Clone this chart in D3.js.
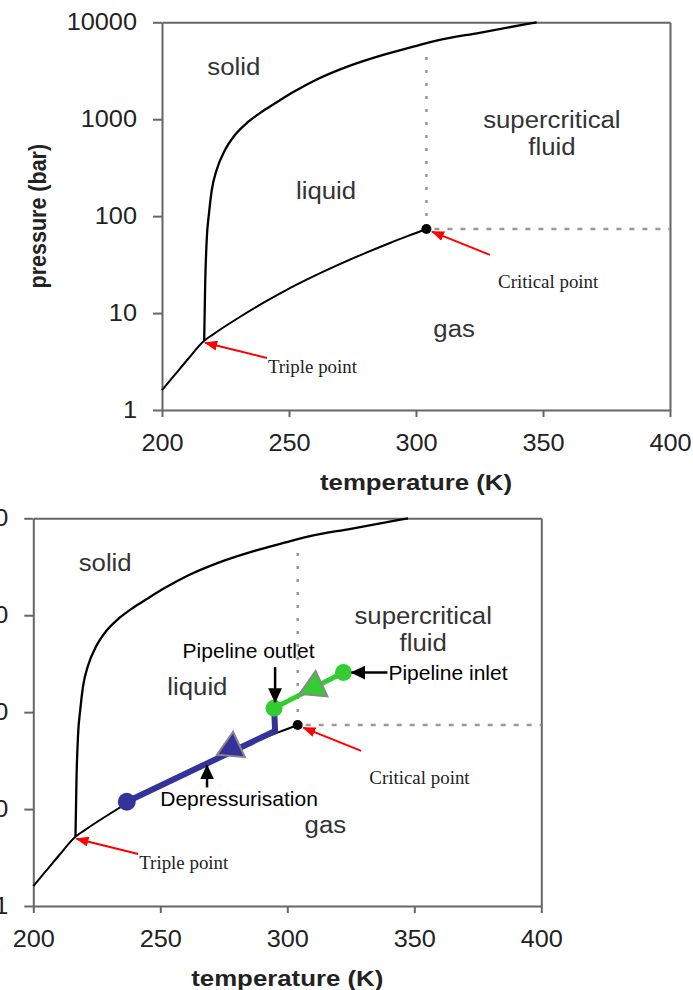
<!DOCTYPE html>
<html lang="en">
<head>
<meta charset="UTF-8" />
<title>CO2 phase diagram</title>
<script src="https://d3js.org/d3.v7.min.js"></script>
<style>
  body { margin: 0; background: #fff; }
  svg { display: block; font-family: "Liberation Sans", Arial, sans-serif; }
</style>
</head>
<body>
<div id="chart"></div>
<script>
// phase boundaries, temperature (K) / pressure (bar)
const sublimationT = [200, 205, 210, 216.6];
const sublimationP = [1.6, 2.3, 3.3, 5.18];
const vaporT = [216.6, 220, 230, 240, 250, 260, 270, 280, 290, 300, 304.1];
const vaporP = [5.18, 6.0, 8.9, 12.8, 17.9, 24.2, 32.0, 41.6, 53.2, 67.1, 73.8];
const meltingT = [216.6, 217.0, 217.6, 218.5, 219.6, 221.5, 224.8, 228.7, 234.0, 239.3, 244.5, 251.7, 260.9, 272.7, 287.1, 298.9, 308.1, 325, 347.5];
const meltingP = [5.18, 20, 56.7, 107, 186, 299, 481, 687, 942, 1195, 1459, 1905, 2570, 3470, 4613, 5600, 6470, 7800, 10000];
const criticalPoint = [304.1, 73.8];
const triplePoint = [216.6, 5.18];

const tempTicks = [200, 250, 300, 350, 400];
const pressureTicks = [1, 10, 100, 1000, 10000];

const regionNames = ["solid", "liquid", "supercritical", "fluid", "gas"];
const regionT = [228.3, 264.6, 353.5, 353.5, 315];
const regionP = [2850, 150, 813, 428, 5.66];

// pipeline (lower chart)
const pipeT = [322.1, 294.8];          // inlet -> outlet
const pipeP = [256, 110];
const depressT = [294.8, 295.2, 236.8]; // outlet -> knee -> end
const depressP = [110, 64, 11.9];
const flowMarkT = [310.6, 278.1];
const flowMarkP = [181, 42.8];

const W = 693, H = 990;
const x = d3.scaleLinear().domain([200, 400]).range([162, 670]);
const y = d3.scaleLog().domain([1, 10000]).range([410, 22.3]);

const svg = d3.select("#chart").append("svg")
  .attr("width", W).attr("height", H);
svg.append("rect").attr("width", W).attr("height", H).attr("fill", "#fff");

const defs = svg.append("defs");
defs.append("marker").attr("id", "redHead")
  .attr("markerUnits", "userSpaceOnUse")
  .attr("markerWidth", 13).attr("markerHeight", 10)
  .attr("refX", 12).attr("refY", 5).attr("orient", "auto")
  .append("path").attr("d", "M0,0L13,5L0,10Z").attr("fill", "#ff0000");
defs.append("marker").attr("id", "blackHead")
  .attr("markerUnits", "userSpaceOnUse")
  .attr("markerWidth", 15).attr("markerHeight", 14)
  .attr("refX", 14).attr("refY", 7).attr("orient", "auto")
  .append("path").attr("d", "M0,0L15,7L0,14Z").attr("fill", "#000");

// the source picture is stretched sideways, so the text is too
function stretch(sel, k) {
  sel.each(function () {
    const w = this.getComputedTextLength();
    d3.select(this).attr("textLength", w * k).attr("lengthAdjust", "spacingAndGlyphs");
  });
}

const line = d3.line().x(d => x(d[0])).y(d => y(d[1]));
const smooth = d3.line().x(d => x(d[0])).y(d => y(d[1])).curve(d3.curveMonotoneX);

function drawPanel(g) {
  // frame
  g.append("g").attr("transform", `translate(0,${y(10000)})`)
    .call(d3.axisTop(x).tickValues([]).tickSizeOuter(0));
  g.append("g").attr("transform", `translate(${x(400)},0)`)
    .call(d3.axisRight(y).tickValues([]).tickSizeOuter(0));

  const yAxis = g.append("g").attr("transform", `translate(${x(200)},0)`)
    .call(d3.axisLeft(y).tickValues(pressureTicks).tickFormat(d3.format("d"))
      .tickSize(9).tickPadding(16).tickSizeOuter(0));
  const xAxis = g.append("g").attr("transform", `translate(0,${y(1)})`)
    .call(d3.axisBottom(x).tickValues(tempTicks)
      .tickSize(7).tickPadding(18).tickSizeOuter(0));

  g.selectAll(".domain, .tick line").attr("stroke", "#666").attr("stroke-width", 2);
  [yAxis, xAxis].forEach(a => {
    const t = a.selectAll("text").attr("font-size", 23).attr("fill", "#222")
      .attr("font-family", "Liberation Sans, Arial, sans-serif");
    stretch(t, 1.1);
  });

  // axis titles
  const xt = g.append("text")
    .attr("x", (x(200) + x(400)) / 2).attr("y", y(1) + 79.5)
    .attr("text-anchor", "middle").attr("font-size", 21.5).attr("font-weight", "bold")
    .attr("fill", "#222").text("temperature (K)");
  stretch(xt, 1.2);
  g.append("text")
    .attr("transform", `translate(${x(200) - 116.5},${(y(1) + y(10000)) / 2}) scale(1.15,1) rotate(-90)`)
    .attr("text-anchor", "middle").attr("font-size", 21.5).attr("font-weight", "bold")
    .attr("fill", "#222").text("pressure (bar)");

  // critical point guides
  g.append("line")
    .attr("x1", x(criticalPoint[0])).attr("x2", x(criticalPoint[0]))
    .attr("y1", y(criticalPoint[1])).attr("y2", y(5000))
    .attr("stroke", "#999").attr("stroke-width", 2.5).attr("stroke-dasharray", "3,10");
  g.append("line")
    .attr("x1", x(criticalPoint[0]) + 8).attr("x2", x(400))
    .attr("y1", y(criticalPoint[1])).attr("y2", y(criticalPoint[1]))
    .attr("stroke", "#999").attr("stroke-width", 2.5).attr("stroke-dasharray", "5,8");

  // phase boundaries
  g.append("path").datum(d3.zip(sublimationT, sublimationP).concat(d3.zip(vaporT, vaporP).slice(1)))
    .attr("d", smooth).attr("fill", "none").attr("stroke", "#000").attr("stroke-width", 2);
  g.append("path").datum(d3.zip(meltingT, meltingP))
    .attr("d", smooth).attr("fill", "none").attr("stroke", "#000").attr("stroke-width", 2.3);
  g.append("circle").attr("cx", x(criticalPoint[0])).attr("cy", y(criticalPoint[1]))
    .attr("r", 5).attr("fill", "#000");

  // region names
  regionNames.forEach((name, i) => {
    const t = g.append("text").attr("x", x(regionT[i])).attr("y", y(regionP[i]))
      .attr("text-anchor", "middle").attr("font-size", 23).attr("fill", "#333").text(name);
    stretch(t, 1.12);
  });

  // point labels with red arrows
  g.append("line")
    .attr("x1", x(329.1)).attr("y1", y(39.8)).attr("x2", x(306.3)).attr("y2", y(69.2))
    .attr("stroke", "#ff0000").attr("stroke-width", 2).attr("marker-end", "url(#redHead)");
  g.append("line")
    .attr("x1", x(241.3)).attr("y1", y(3.44)).attr("x2", x(triplePoint[0]) + 1).attr("y2", y(triplePoint[1]) + 2)
    .attr("stroke", "#ff0000").attr("stroke-width", 2).attr("marker-end", "url(#redHead)");
  const serif = "Liberation Serif, Times New Roman, serif";
  stretch(g.append("text").attr("x", x(332.3)).attr("y", y(18.2))
    .attr("font-family", serif).attr("font-size", 18).attr("fill", "#222").text("Critical point"), 1.05);
  stretch(g.append("text").attr("x", x(241.7)).attr("y", y(2.43))
    .attr("font-family", serif).attr("font-size", 18).attr("fill", "#222").text("Triple point"), 1.05);
}

function drawPipeline(g) {
  const blue = "#333399", green = "#33cc33";
  g.append("path").datum(d3.zip(depressT, depressP))
    .attr("d", line).attr("fill", "none").attr("stroke", blue)
    .attr("stroke-width", 6).attr("stroke-linejoin", "round");
  g.append("path").datum(d3.zip(pipeT, pipeP))
    .attr("d", line).attr("fill", "none").attr("stroke", green).attr("stroke-width", 5);

  g.selectAll("path.flow").data(d3.zip(flowMarkT, flowMarkP)).join("path")
    .attr("class", "flow")
    .attr("d", d3.symbol(d3.symbolTriangle, 340))
    .attr("transform", d => `translate(${x(d[0])},${y(d[1])}) rotate(5)`)
    .attr("fill", (d, i) => i === 0 ? green : blue)
    .attr("stroke", "#888").attr("stroke-width", 2);

  g.append("circle").attr("cx", x(depressT[2])).attr("cy", y(depressP[2]))
    .attr("r", 9).attr("fill", blue);
  g.selectAll("circle.pipe").data(d3.zip(pipeT, pipeP)).join("circle")
    .attr("class", "pipe")
    .attr("cx", d => x(d[0])).attr("cy", d => y(d[1])).attr("r", 8.5).attr("fill", green);

  // annotations
  const inX = x(pipeT[0]), inY = y(pipeP[0]);
  const outX = x(pipeT[1]), outY = y(pipeP[1]);
  const arrow = (x1, y1, x2, y2) => g.append("line")
    .attr("x1", x1).attr("y1", y1).attr("x2", x2).attr("y2", y2)
    .attr("stroke", "#000").attr("stroke-width", 2.5).attr("marker-end", "url(#blackHead)");
  const label = (tx, ty, anchor, s) => g.append("text").attr("x", tx).attr("y", ty)
    .attr("text-anchor", anchor).attr("font-size", 21).attr("fill", "#000").text(s);

  arrow(outX + 1, outY - 41, outX + 1, outY - 6);
  label(outX - 25.5, outY - 50, "middle", "Pipeline outlet");
  arrow(inX + 44, inY, inX + 8, inY);
  label(inX + 45, inY + 7, "start", "Pipeline inlet");

  const kx = x(depressT[1]), ky = y(depressP[1]);
  const ex = x(depressT[2]), ey = y(depressP[2]);
  const ax = x(268.4);
  const ay = ey + (ky - ey) * (ax - ex) / (kx - ex);
  arrow(ax, ay + 24, ax, ay + 2);
  label(ax + 32, ay + 43, "middle", "Depressurisation");
}

const topPanel = svg.append("g");
drawPanel(topPanel);

const bottomPanel = svg.append("g").attr("transform", "translate(-128.7,496)");
drawPanel(bottomPanel);
drawPipeline(bottomPanel);
</script>
</body>
</html>
